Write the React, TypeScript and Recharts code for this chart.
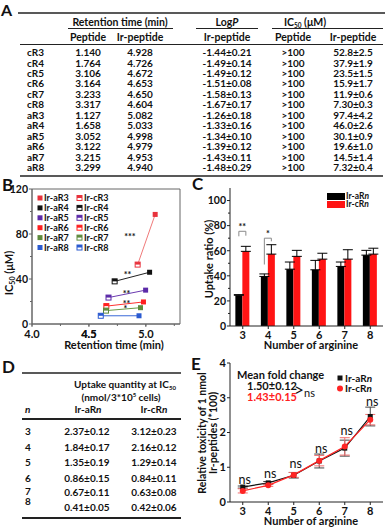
import React from 'react';
import {
  ScatterChart, Scatter, XAxis, YAxis, ReferenceArea, ReferenceDot,
  BarChart, Bar, ErrorBar, LineChart, Line,
} from 'recharts';

const FONT = "Lato, 'Open Sans', 'DejaVu Sans', sans-serif";
const INK = '#111';

// ---------- Panel A / B data ----------
const arginineCounts = [3, 4, 5, 6, 7, 8];
const cRPeptideRT = [1.14, 1.764, 3.106, 3.164, 3.233, 3.317];
const cRIrPeptideRT = [4.928, 4.726, 4.672, 4.653, 4.65, 4.604];
const cRLogP = [-1.44, -1.49, -1.49, -1.51, -1.58, -1.67];
const cRLogPErr = [0.21, 0.14, 0.12, 0.08, 0.13, 0.17];
const cRIC50 = [52.8, 37.9, 23.5, 15.9, 11.9, 7.3];
const cRIC50Err = [2.5, 1.9, 1.5, 1.7, 0.6, 0.3];
const aRPeptideRT = [1.127, 1.658, 3.052, 3.122, 3.215, 3.299];
const aRIrPeptideRT = [5.082, 5.033, 4.998, 4.979, 4.953, 4.94];
const aRLogP = [-1.26, -1.33, -1.34, -1.39, -1.43, -1.48];
const aRLogPErr = [0.18, 0.16, 0.1, 0.12, 0.11, 0.29];
const aRIC50 = [97.4, 46.0, 30.1, 19.6, 14.5, 7.32];
const aRIC50Err = [4.2, 2.6, 0.9, 1.0, 1.4, 0.4];
const peptideIC50Label = '>100';

const bXDomain = [4, 5.3];
const bXTicks = [4, 4.25, 4.5, 4.75, 5, 5.25];
const bXLabelled = [4, 4.5, 5];
const bYTicks = [0, 20, 40, 60, 80, 100, 120];
const bYLabelled = [0, 40, 80, 120];

const bSeriesColors = ['#e8323c', '#111111', '#5b2aa8', '#ff1f1f', '#5e8a3c', '#2a5ad0'];
const bLineColors = ['#f07a7a', '#222222', '#6b3ab0', '#ff3030', '#6a9a48', '#3a6ad8'];
const bSigLabels = ['***', '**', '**', '**', '*'];
const bSigX = [4.86, 4.84, 4.83, 4.83, 4.82];
const bSigY = [79, 45, 28.4, 19.6, 15.1];

// ---------- Panel C data ----------
const cUptakeAR = [24.5, 39.5, 45.3, 44.8, 47.5, 56.5];
const cUptakeARErr = [0.5, 2, 5.7, 7.5, 3.5, 3.8];
const cUptakeCR = [59.5, 57.3, 55.5, 53.3, 53.3, 57.3];
const cUptakeCRErr = [4, 7.5, 4.8, 4.7, 7.5, 4.7];
const cSigLabels = ['**', '*'];
const cBracketTop = [75.5, 70];
const cBracketLeftEnd = [71.5, 49];
const cBracketRightEnd = [72, 67.5];

// ---------- Panel D data ----------
const dUptakeAR = [2.37, 1.84, 1.35, 0.86, 0.67, 0.41];
const dUptakeARErr = [0.12, 0.17, 0.19, 0.15, 0.11, 0.05];
const dUptakeCR = [3.12, 2.16, 1.29, 0.84, 0.63, 0.42];
const dUptakeCRErr = [0.23, 0.12, 0.14, 0.11, 0.08, 0.06];

// ---------- Panel E data ----------
const eToxAR = [0.43, 0.55, 0.77, 1.18, 1.55, 2.46];
const eToxARErr = [0.03, 0.04, 0.08, 0.2, 0.23, 0.27];
const eToxCR = [0.32, 0.48, 0.78, 1.19, 1.6, 2.37];
const eToxCRErr = [0.06, 0.03, 0.07, 0.15, 0.25, 0.15];
const eNsY = [0.63, 0.81, 1.09, 1.55, 2.04, 2.88];
const eMeanFoldAR = '1.50\u00b10.12';
const eMeanFoldCR = '1.43\u00b10.15';

const fmtIC = (v: number) => (v < 10 ? v.toFixed(2) : v.toFixed(1));
const pm = '\u00b1';

const tableARows = [
  ...arginineCounts.map((n, i) => ({
    label: `cR${n}`, pRT: cRPeptideRT[i].toFixed(3), irRT: cRIrPeptideRT[i].toFixed(3),
    logP: `${cRLogP[i].toFixed(2)}${pm}${cRLogPErr[i].toFixed(2)}`,
    pIC: peptideIC50Label, irIC: `${fmtIC(cRIC50[i])}${pm}${cRIC50Err[i].toFixed(1)}`,
  })),
  ...arginineCounts.map((n, i) => ({
    label: `aR${n}`, pRT: aRPeptideRT[i].toFixed(3), irRT: aRIrPeptideRT[i].toFixed(3),
    logP: `${aRLogP[i].toFixed(2)}${pm}${aRLogPErr[i].toFixed(2)}`,
    pIC: peptideIC50Label, irIC: `${fmtIC(aRIC50[i])}${pm}${aRIC50Err[i].toFixed(1)}`,
  })),
];

const cData = arginineCounts.map((n, i) => ({
  n: String(n), aR: cUptakeAR[i], aRErr: [0, cUptakeARErr[i]],
  cR: cUptakeCR[i], cRErr: [0, cUptakeCRErr[i]],
}));

const eData = arginineCounts.map((n, i) => ({
  n, aR: eToxAR[i], aRErr: eToxARErr[i], cR: eToxCR[i], cRErr: eToxCRErr[i], nsY: eNsY[i],
}));

const bSigData = bSigLabels.map((s, i) => ({ x: bSigX[i], y: bSigY[i], label: s }));

// ---------- tick renderers ----------
function makeYTick(isMajor: (v: number) => boolean, fmt: (v: number) => string, fontSize: number, color: string) {
  return (props: any) => {
    const { x, y, payload } = props;
    const v = Number(payload.value);
    const major = isMajor(v);
    const len = major ? 3 : 2;
    return (
      <g>
        <line x1={x} x2={x - len} y1={y} y2={y} stroke={color} strokeWidth={1} />
        {major && (
          <text x={x - 4} y={y} dy="0.36em" textAnchor="end" fontSize={fontSize} fontWeight="bold" fill={INK} fontFamily={FONT}>
            {fmt(v)}
          </text>
        )}
      </g>
    );
  };
}
function makeXTick(labelOf: (v: number) => string | null, fontSize: number, color: string, textDy: number) {
  return (props: any) => {
    const { x, y, payload } = props;
    const v = Number(payload.value);
    const label = labelOf(v);
    const len = label ? 3 : 2;
    return (
      <g>
        <line x1={x} x2={x} y1={y} y2={y + len} stroke={color} strokeWidth={1} />
        {label && (
          <text x={x} y={y + textDy} textAnchor="middle" fontSize={fontSize} fontWeight="bold" fill={INK} fontFamily={FONT}>
            {label}
          </text>
        )}
      </g>
    );
  };
}

const B_AXIS = '#666';
const bYTick = makeYTick((v) => bYLabelled.some((m) => Math.abs(m - v) < 0.01), (v) => String(Math.round(v)), 10.5, B_AXIS);
const bXTickMarks = makeXTick(() => null, 11, B_AXIS, 14);
const C_AXIS = '#222';
const cYTick = makeYTick((v) => v % 20 === 0, (v) => String(v), 10.5, C_AXIS);
const cXTick = makeXTick((v) => String(v), 11, C_AXIS, 13);
const eYTick = makeYTick((v) => Number.isInteger(v), (v) => String(v), 11, C_AXIS);
const eXTick = makeXTick((v) => String(v), 11, C_AXIS, 13);

// ---------- shapes ----------
function bMarker(color: string) {
  return (p: any) => {
    const { cx, cy, payload } = p;
    const s = 5;
    if (payload.kind === 'a') {
      return <rect x={cx - s / 2} y={cy - s / 2} width={s} height={s} fill={color} />;
    }
    return (
      <g>
        <rect x={cx - s / 2} y={cy - s / 2} width={s} height={s} fill="#fff" stroke={color} strokeWidth={1} />
        <rect x={cx - s / 2} y={cy - s / 2} width={s} height={s / 2} fill={color} />
      </g>
    );
  };
}
const bSigShape = (p: any) => (
  <text x={p.cx} y={p.cy} dy="0.55em" textAnchor="middle" fontSize={9} fontWeight="bold" fill={INK} fontFamily={FONT}>
    {p.payload.label}
  </text>
);
function bXLabelShape(v: number) {
  return (p: any) => (
    <g>
      <line x1={p.cx} x2={p.cx} y1={p.cy} y2={p.cy + 3} stroke={B_AXIS} strokeWidth={1} />
      <text x={p.cx} y={p.cy + 14} textAnchor="middle" fontSize={11} fontWeight="bold" fill={INK} fontFamily={FONT}>
        {v.toFixed(1)}
      </text>
    </g>
  );
}

const redBarShape = (p: any) => {
  const { x, y, width, height, payload, index } = p;
  const rect = <rect x={x} y={y} width={width} height={height} fill="#ff1414" />;
  if (index >= cSigLabels.length) return rect;
  const ppu = height / payload.cR;
  const base = y + height;
  const yt = base - cBracketTop[index] * ppu;
  const yl = base - cBracketLeftEnd[index] * ppu;
  const yr = base - cBracketRightEnd[index] * ppu;
  const xl = x - width / 2;
  const xr = x + width / 2;
  return (
    <g>
      {rect}
      <path d={`M${xl},${yl} L${xl},${yt} L${xr},${yt} L${xr},${yr}`} fill="none" stroke="#8a8a8a" strokeWidth={1} />
      <text x={(xl + xr) / 2} y={yt - 1} textAnchor="middle" fontSize={9} fontWeight="bold" fill={INK} fontFamily={FONT}>
        {cSigLabels[index]}
      </text>
    </g>
  );
};

const squareDot = (p: any) => <rect key={`sq-${p.index}`} x={p.cx - 2.5} y={p.cy - 2.5} width={5} height={5} fill="#111" />;
const circleDot = (p: any) => <circle key={`ci-${p.index}`} cx={p.cx} cy={p.cy} r={3} fill="#ff2424" />;
const nsDot = (p: any) => (
  <text key={`ns-${p.index}`} x={p.cx + 2} y={p.cy} dy="0.35em" textAnchor="middle" fontSize={12.5} fill={INK} fontFamily={FONT}>
    ns
  </text>
);

const T = (props: any) => <text fontFamily={FONT} fontWeight="bold" fill={INK} {...props} />;

// B plot geometry (chart at left 0, y-axis width 32, right margin 10, width 190)
const B_PLOT_LEFT = 32;
const B_PLOT_WIDTH = 148;
const B_AXIS_Y = 324;

// ---------- panels ----------
function PanelB() {
  return (
    <div style={{ position: 'absolute', left: 0, top: 180 }}>
      <ScatterChart width={190} height={170} margin={{ top: 9, right: 10, bottom: 0, left: 0 }}>
        <XAxis type="number" dataKey="x" domain={bXDomain} ticks={bXTicks} allowDataOverflow interval={0}
          tick={bXTickMarks} tickLine={false} tickSize={0} tickMargin={0} height={26} axisLine={{ stroke: B_AXIS }} />
        <YAxis type="number" dataKey="y" domain={[0, 120]} ticks={bYTicks} allowDataOverflow interval={0}
          tick={bYTick} tickLine={false} tickSize={0} tickMargin={0} width={32} axisLine={{ stroke: B_AXIS }} />
        <ReferenceArea x1={4} x2={5.3} y1={0} y2={120} fill="none" fillOpacity={0} stroke={B_AXIS} strokeWidth={1} ifOverflow="visible" />
        {arginineCounts.map((n, i) => (
          <Scatter key={n} name={`R${n}`} isAnimationActive={false}
            data={[{ x: cRIrPeptideRT[i], y: cRIC50[i], kind: 'c' }, { x: aRIrPeptideRT[i], y: aRIC50[i], kind: 'a' }]}
            line={{ stroke: bLineColors[i], strokeWidth: 1 }} shape={bMarker(bSeriesColors[i])} />
        ))}
        <Scatter data={bSigData} shape={bSigShape} isAnimationActive={false} />
        {bXLabelled.map((v) => (
          <ReferenceDot key={v} x={v} y={0} r={0} ifOverflow="visible" shape={bXLabelShape(v)} />
        ))}
      </ScatterChart>
    </div>
  );
}

function PanelC() {
  return (
    <div style={{ position: 'absolute', left: 190, top: 180 }}>
      <BarChart width={195} height={170} data={cData} margin={{ top: 8, right: 2, bottom: 0, left: 0 }} barCategoryGap="21%" barGap={0}>
        <XAxis dataKey="n" interval={0} tick={cXTick} tickLine={false} tickSize={0} tickMargin={0} height={24} axisLine={{ stroke: C_AXIS }} />
        <YAxis domain={[0, 110]} ticks={[0, 10, 20, 30, 40, 50, 60, 70, 80, 90, 100]} allowDataOverflow interval={0}
          tick={cYTick} tickLine={false} tickSize={0} tickMargin={0} width={40} axisLine={{ stroke: C_AXIS }} />
        <XAxis xAxisId="top" orientation="top" dataKey="n" tick={false} tickLine={false} height={0} axisLine={{ stroke: C_AXIS }} />
        <YAxis yAxisId="right" orientation="right" domain={[0, 110]} tick={false} tickLine={false} width={0} axisLine={{ stroke: C_AXIS }} />
        <Bar dataKey="aR" fill="#000" isAnimationActive={false}>
          <ErrorBar dataKey="aRErr" width={5} stroke="#000" strokeWidth={1} direction="y" />
        </Bar>
        <Bar dataKey="cR" fill="#ff1414" shape={redBarShape} isAnimationActive={false}>
          <ErrorBar dataKey="cRErr" width={5} stroke="#000" strokeWidth={1} direction="y" />
        </Bar>
      </BarChart>
    </div>
  );
}

function PanelE() {
  return (
    <div style={{ position: 'absolute', left: 190, top: 350 }}>
      <LineChart width={195} height={178} data={eData} margin={{ top: 13, right: 2, bottom: 0, left: 0 }}>
        <XAxis type="number" dataKey="n" domain={[2.5, 8.5]} ticks={[3, 4, 5, 6, 7, 8]} allowDataOverflow interval={0}
          tick={eXTick} tickLine={false} tickSize={0} tickMargin={0} height={26} axisLine={{ stroke: C_AXIS }} />
        <YAxis domain={[0, 4]} ticks={[0, 1, 2, 3, 4]} allowDataOverflow interval={0}
          tick={eYTick} tickLine={false} tickSize={0} tickMargin={0} width={40} axisLine={{ stroke: C_AXIS }} />
        <Line dataKey="aR" stroke="#111" strokeWidth={1.2} dot={squareDot} activeDot={false} isAnimationActive={false}>
          <ErrorBar dataKey="aRErr" width={5} stroke="#444" strokeWidth={1} direction="y" />
        </Line>
        <Line dataKey="cR" stroke="#ff2424" strokeWidth={1.2} dot={circleDot} activeDot={false} isAnimationActive={false}>
          <ErrorBar dataKey="cRErr" width={5} stroke="#f07070" strokeWidth={1} direction="y" />
        </Line>
        <Line dataKey="nsY" stroke="none" dot={nsDot} activeDot={false} isAnimationActive={false} />
      </LineChart>
    </div>
  );
}

function TopLabels() {
  // mid tick label of panel B x-axis, placed on the same linear mapping as the axis
  const v = bXLabelled[1];
  const x = B_PLOT_LEFT + ((v - bXDomain[0]) / (bXDomain[1] - bXDomain[0])) * B_PLOT_WIDTH;
  return (
    <svg width={385} height={528} style={{ position: 'absolute', left: 0, top: 0, pointerEvents: 'none' }}>
      <text x={x} y={B_AXIS_Y + 14} textAnchor="middle" fontSize={11} fontWeight="bold" fill={INK} fontFamily={FONT}>
        {v.toFixed(1)}
      </text>
    </svg>
  );
}

function Overlay() {
  const aCols = [88, 140, 227, 293, 353];
  const rowY0 = 52.5;
  const rowDy = 10.45;
  const dRowY = [431, 447, 462, 478, 492, 507];
  const dLabelY = [431, 447, 462, 478, 491, 501];
  return (
    <svg width={385} height={528} style={{ position: 'absolute', left: 0, top: 0 }}>
      {/* panel letters */}
      <T x={1} y={16} fontSize={16}>A</T>
      <T x={2} y={191} fontSize={17}>B</T>
      <T x={192} y={190} fontSize={17}>C</T>
      <T x={2} y={373} fontSize={17}>D</T>
      <T x={191} y={370} fontSize={17}>E</T>

      {/* Table A */}
      <line x1={18} x2={385} y1={13} y2={13} stroke="#222" strokeWidth={1.4} />
      <T x={120} y={25.5} fontSize={10.5} textAnchor="middle">Retention time (min)</T>
      <T x={227} y={25.5} fontSize={10.5} textAnchor="middle">Log<tspan fontStyle="italic">P</tspan></T>
      <T x={305} y={25.5} fontSize={10.5} textAnchor="middle">IC<tspan fontSize={6.5} dy={2}>50</tspan><tspan dy={-2}> (μM)</tspan></T>
      <line x1={68} x2={173} y1={28.5} y2={28.5} stroke="#222" strokeWidth={1} />
      <line x1={196} x2={258} y1={28.5} y2={28.5} stroke="#222" strokeWidth={1} />
      <line x1={272} x2={383} y1={28.5} y2={28.5} stroke="#222" strokeWidth={1} />
      {['Peptide', 'Ir-peptide', 'Ir-peptide', 'Peptide', 'Ir-peptide'].map((h, i) => (
        <T key={i} x={aCols[i]} y={41} fontSize={10.5} textAnchor="middle">{h}</T>
      ))}
      <line x1={20} x2={383} y1={44.5} y2={44.5} stroke="#222" strokeWidth={1.2} />
      {tableARows.map((r, i) => {
        const y = rowY0 + i * rowDy + 3.6;
        return (
          <g key={r.label}>
            <T x={27} y={y} fontSize={10}>{r.label}</T>
            <T x={aCols[0]} y={y} fontSize={10} textAnchor="middle">{r.pRT}</T>
            <T x={aCols[1]} y={y} fontSize={10} textAnchor="middle">{r.irRT}</T>
            <T x={aCols[2]} y={y} fontSize={10} textAnchor="middle">{r.logP}</T>
            <T x={aCols[3]} y={y} fontSize={10} textAnchor="middle">{r.pIC}</T>
            <T x={aCols[4]} y={y} fontSize={10} textAnchor="middle">{r.irIC}</T>
          </g>
        );
      })}
      <line x1={20} x2={383} y1={176} y2={176} stroke="#222" strokeWidth={1.4} />

      {/* Panel B legend & titles */}
      {arginineCounts.map((n, i) => {
        const y = 198 + i * 9.9;
        const c = bSeriesColors[i];
        return (
          <g key={n}>
            <rect x={37.5} y={y - 2.5} width={5} height={5} fill={c} />
            <T x={44} y={y} dy="0.35em" fontSize={9}>{`Ir-aR${n}`}</T>
            <rect x={77} y={y - 2.5} width={5} height={5} fill="#fff" stroke={c} strokeWidth={1} />
            <rect x={77} y={y - 2.5} width={5} height={2.5} fill={c} />
            <T x={84} y={y} dy="0.35em" fontSize={9}>{`Ir-cR${n}`}</T>
          </g>
        );
      })}
      <T x={114} y={349} fontSize={11} textAnchor="middle">Retention time (min)</T>
      <T transform="translate(13,273) rotate(-90)" fontSize={11} textAnchor="middle">IC<tspan fontSize={7} dy={2}>50</tspan><tspan dy={-2}> (μM)</tspan></T>

      {/* Panel C legend & titles */}
      <rect x={327} y={193} width={18} height={7} fill="#000" />
      <T x={346} y={196.5} dy="0.35em" fontSize={8.5}>Ir-aR<tspan fontStyle="italic">n</tspan></T>
      <rect x={327} y={201} width={18} height={7} fill="#ff1414" />
      <T x={346} y={204.5} dy="0.35em" fontSize={8.5}>Ir-cR<tspan fontStyle="italic">n</tspan></T>
      <T x={311} y={349} fontSize={11} textAnchor="middle">Number of arginine</T>
      <T transform="translate(213,259) rotate(-90)" fontSize={11} textAnchor="middle">Uptake ratio (%)</T>

      {/* Table D */}
      <line x1={22} x2={181} y1={373} y2={373} stroke="#222" strokeWidth={1.4} />
      <T x={125} y={387.5} fontSize={10} textAnchor="middle">Uptake quantity at IC<tspan fontSize={6} dy={2}>50</tspan></T>
      <T x={121} y={400.5} fontSize={10} textAnchor="middle">(nmol/3*10<tspan fontSize={6} dy={-4}>5</tspan><tspan dy={4}> cells)</tspan></T>
      <T x={25} y={413} fontSize={10} fontStyle="italic">n</T>
      <T x={88} y={413} fontSize={10} textAnchor="middle">Ir-aR<tspan fontStyle="italic">n</tspan></T>
      <T x={154} y={413} fontSize={10} textAnchor="middle">Ir-cR<tspan fontStyle="italic">n</tspan></T>
      <line x1={22} x2={181} y1={419} y2={419} stroke="#222" strokeWidth={1.8} />
      {arginineCounts.map((n, i) => (
        <g key={n}>
          <T x={25} y={dLabelY[i] + 3.5} fontSize={10}>{n}</T>
          <T x={87} y={dRowY[i] + 3.5} fontSize={10} textAnchor="middle">{`${dUptakeAR[i].toFixed(2)}${pm}${dUptakeARErr[i].toFixed(2)}`}</T>
          <T x={154} y={dRowY[i] + 3.5} fontSize={10} textAnchor="middle">{`${dUptakeCR[i].toFixed(2)}${pm}${dUptakeCRErr[i].toFixed(2)}`}</T>
        </g>
      ))}
      <line x1={22} x2={181} y1={518} y2={518} stroke="#222" strokeWidth={2.2} />

      {/* Panel E annotations & titles */}
      <T x={237} y={379} fontSize={11}>Mean fold change</T>
      <T x={247} y={390} fontSize={11}>{eMeanFoldAR}</T>
      <T x={247} y={401} fontSize={11} fill="#ff2020">{eMeanFoldCR}</T>
      <T x={294} y={396} fontSize={17} fontWeight="normal">&gt;</T>
      <T x={304} y={397} fontSize={11} fontWeight="normal">ns</T>
      <rect x={337.5} y={375.5} width={5} height={5} fill="#111" />
      <T x={345} y={378} dy="0.35em" fontSize={10}>Ir-aR<tspan fontStyle="italic">n</tspan></T>
      <circle cx={340} cy={388.5} r={3} fill="#ff2424" />
      <T x={345} y={388.5} dy="0.35em" fontSize={10}>Ir-cR<tspan fontStyle="italic">n</tspan></T>
      <T x={311} y={525} fontSize={11} textAnchor="middle">Number of arginine</T>
      <T transform="translate(206,433) rotate(-90)" fontSize={10.5} textAnchor="middle">Relative toxicity of 1 nmol</T>
      <T transform="translate(217,433) rotate(-90)" fontSize={10.5} textAnchor="middle">Ir-peptides (*100)</T>
    </svg>
  );
}

export default function App() {
  return (
    <div style={{ position: 'absolute', left: 0, top: 0, width: 385, height: 528, background: '#fff', fontFamily: FONT, overflow: 'hidden' }}>
      <Overlay />
      <PanelB />
      <PanelC />
      <PanelE />
      <TopLabels />
    </div>
  );
}
